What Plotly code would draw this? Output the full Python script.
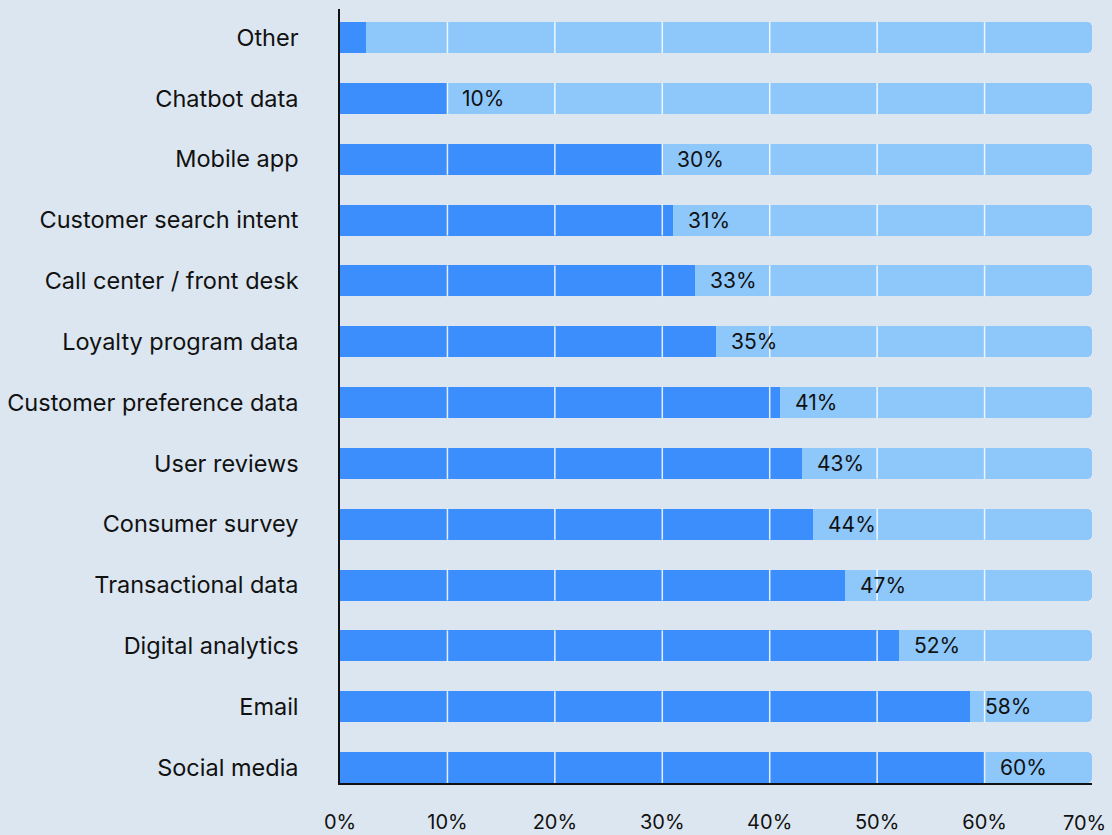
import plotly.graph_objects as go

categories = ["Social media", "Email", "Digital analytics", "Transactional data",
              "Consumer survey", "User reviews", "Customer preference data",
              "Loyalty program data", "Call center / front desk",
              "Customer search intent", "Mobile app", "Chatbot data", "Other"]
values = [60, 58.6, 52, 47, 44, 43, 41, 35, 33, 31, 30, 10, 2.4]
labels = ["60%", "58%", "52%", "47%", "44%", "43%", "41%", "35%", "33%",
          "31%", "30%", "10%", ""]
full_scale = 70
tick_vals = [0, 10, 20, 30, 40, 50, 60, 70]
tick_text = ["0%", "10%", "20%", "30%", "40%", "50%", "60%", "70%"]

BG = "#dce6f0"
DARK = "#3d8efd"
LIGHT = "#8ec8fb"
FONT = "Inter"
BAR_W = 0.51

pos = list(range(len(categories)))
fig = go.Figure()

# background (track) bars
fig.add_trace(go.Bar(y=pos, x=[full_scale] * len(pos), orientation="h",
                     width=BAR_W, marker=dict(color=LIGHT, cornerradius=5, line_width=0),
                     hoverinfo="skip", showlegend=False))
# value bars
fig.add_trace(go.Bar(y=pos, x=values, orientation="h",
                     width=BAR_W, marker=dict(color=DARK, cornerradius=7, line_width=0),
                     hoverinfo="skip", showlegend=False))

# white grid lines over the bars only
gx, gy = [], []
for t in tick_vals[1:-1]:
    for p in pos:
        gx += [t, t, None]
        gy += [p - BAR_W / 2, p + BAR_W / 2, None]
fig.add_trace(go.Scatter(x=gx, y=gy, mode="lines",
                         line=dict(color="rgba(255,255,255,0.85)", width=1.5),
                         hoverinfo="skip", showlegend=False))

for p, v, lab in zip(pos, values, labels):
    if lab:
        fig.add_annotation(x=v, y=p, text=lab, showarrow=False, xanchor="left",
                           xshift=13, font=dict(family=FONT, size=21, color="#111111"))

# last x tick label, pulled inside the page like in the reference
fig.add_annotation(x=tick_vals[-1], y=0, xref="x", yref="paper", text=tick_text[-1],
                   showarrow=False, xanchor="right", yanchor="top", xshift=16, yshift=-26,
                   font=dict(family=FONT, size=20, color="#111111"))

fig.update_layout(
    width=1112, height=835,
    margin=dict(l=340, r=20, t=9, b=52),
    paper_bgcolor=BG, plot_bgcolor=BG,
    barmode="overlay", bargap=0,
    font=dict(family=FONT, size=20, color="#111111"),
)
fig.update_xaxes(range=[0, full_scale], tickvals=tick_vals[:-1], ticktext=tick_text[:-1],
                 showgrid=False, zeroline=False, showline=True, linecolor="#111111",
                 linewidth=1.5, ticks="outside", ticklen=0, ticklabelstandoff=20,
                 automargin=False,
                 tickfont=dict(family=FONT, size=20, color="#111111"))
fig.update_yaxes(range=[-BAR_W / 2, len(pos) - 1 + 0.47], tickvals=pos, ticktext=categories,
                 showgrid=False, zeroline=False, showline=True, linecolor="#111111",
                 linewidth=1.5, ticks="outside", ticklen=0, ticklabelstandoff=35,
                 automargin=False,
                 tickfont=dict(family=FONT, size=23.5, color="#111111"))

fig.write_html("out.html")
